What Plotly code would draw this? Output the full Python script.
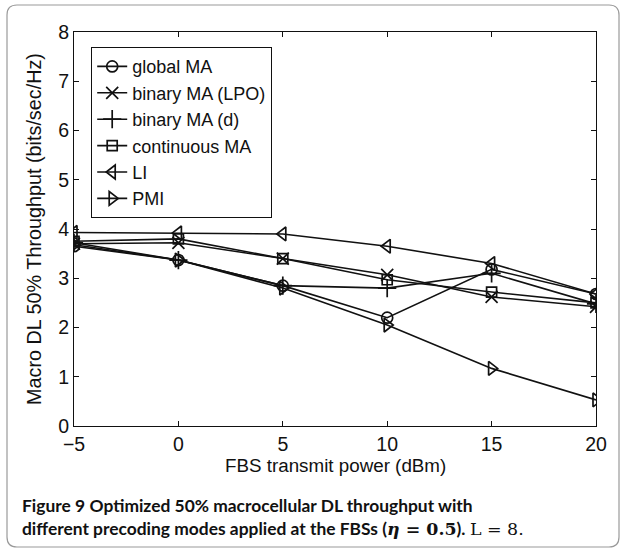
import plotly.graph_objects as go

x_power = [-5, 0, 5, 10, 15, 20]
global_ma = [3.65, 3.37, 2.85, 2.20, 3.18, 2.68]
binary_lpo = [3.70, 3.72, 3.40, 3.07, 2.62, 2.42]
binary_d = [3.72, 3.37, 2.85, 2.80, 3.10, 2.48]
continuous_ma = [3.75, 3.80, 3.40, 2.97, 2.72, 2.50]
li = [3.93, 3.92, 3.90, 3.65, 3.30, 2.68]
pmi = [3.68, 3.37, 2.80, 2.05, 1.17, 0.53]

series_names = ["global MA", "binary MA (LPO)", "binary MA (d)", "continuous MA", "LI", "PMI"]
series_vals = [global_ma, binary_lpo, binary_d, continuous_ma, li, pmi]
symbols = ["circle-open", "x-thin-open", "cross-thin-open", "square-open", "triangle-left-open", "triangle-right-open"]
sizes = [11, 12, 13, 10, 12, 12]

W, H = 626, 550
L, R, T, B = 74, 596, 32, 426

fig = go.Figure()
for name, vals, sym, sz in zip(series_names, series_vals, symbols, sizes):
    fig.add_trace(go.Scatter(
        x=x_power, y=vals, name=name, mode="lines+markers",
        line=dict(color="#111111", width=1.6),
        marker=dict(symbol=sym, size=sz, color="#111111",
                    line=dict(color="#111111", width=1.7)),
    ))

def px2x(px):
    return (px - L) / (R - L)

def px2y(py):
    return (B - py) / (B - T)

# rounded border around the figure
x0, x1, y0, y1, r = 7, 619, 5, 547, 10
path = (
    f"M {px2x(x0 + r)},{px2y(y0)} L {px2x(x1 - r)},{px2y(y0)} "
    f"Q {px2x(x1)},{px2y(y0)} {px2x(x1)},{px2y(y0 + r)} "
    f"L {px2x(x1)},{px2y(y1 - r)} "
    f"Q {px2x(x1)},{px2y(y1)} {px2x(x1 - r)},{px2y(y1)} "
    f"L {px2x(x0 + r)},{px2y(y1)} "
    f"Q {px2x(x0)},{px2y(y1)} {px2x(x0)},{px2y(y1 - r)} "
    f"L {px2x(x0)},{px2y(y0 + r)} "
    f"Q {px2x(x0)},{px2y(y0)} {px2x(x0 + r)},{px2y(y0)} Z"
)

font_main = "Liberation Sans, Arial, sans-serif"
axis_common = dict(
    showline=True, linecolor="#111111", linewidth=1.2, mirror="ticks",
    ticks="inside", ticklen=5, tickcolor="#111111", tickwidth=1,
    showgrid=False, zeroline=False,
    tickfont=dict(family=font_main, size=19.5, color="#111111"),
)

fig.update_layout(
    width=W, height=H,
    margin=dict(l=L, r=W - R, t=T, b=H - B),
    paper_bgcolor="white", plot_bgcolor="white",
    showlegend=True,
    legend=dict(
        x=px2x(91), y=px2y(47), xanchor="left", yanchor="top",
        bgcolor="white", bordercolor="#111111", borderwidth=1.2,
        font=dict(family=font_main, size=18, color="#111111"),
        itemwidth=30, tracegroupgap=0,
    ),
    xaxis=dict(range=[-5, 20], tickvals=[-5, 0, 5, 10, 15, 20],
               ticktext=["\u22125", "0", "5", "10", "15", "20"],
               **axis_common),
    yaxis=dict(range=[0, 8], tickvals=list(range(0, 9)),
               title=dict(text="Macro DL 50% Throughput (bits/sec/Hz)",
                          font=dict(family=font_main, size=19.8, color="#111111"),
                          standoff=11),
               **axis_common),
    shapes=[dict(type="path", xref="paper", yref="paper", path=path,
                 line=dict(color="#9a9a9a", width=1.2), fillcolor="rgba(0,0,0,0)",
                 layer="below")],
    annotations=[
        dict(xref="paper", yref="paper", x=px2x(335), y=px2y(465),
             xanchor="center", yanchor="middle", showarrow=False,
             text="FBS transmit power (dBm)",
             font=dict(family=font_main, size=18.8, color="#111111")),
        dict(xref="paper", yref="paper", x=px2x(20), y=px2y(505),
             xanchor="left", yanchor="middle", showarrow=False,
             text="<b>Figure 9</b> <b>Optimized 50% macrocellular DL throughput with</b>",
             font=dict(family="Lato, sans-serif", size=17.4, color="#111111")),
        dict(xref="paper", yref="paper", x=px2x(20), y=px2y(528),
             xanchor="left", yanchor="middle", showarrow=False,
             text=("<b>different precoding modes applied at the FBSs (</b>"
                   "<span style='font-family:DejaVu Serif'><b><i>\u03b7</i> = 0.5</b></span>"
                   "<b>).</b> <span style='font-family:DejaVu Serif;font-weight:normal'>L = 8.</span>"),
             font=dict(family="Lato, sans-serif", size=17.4, color="#111111")),
    ],
)

fig.write_html("out.html")
